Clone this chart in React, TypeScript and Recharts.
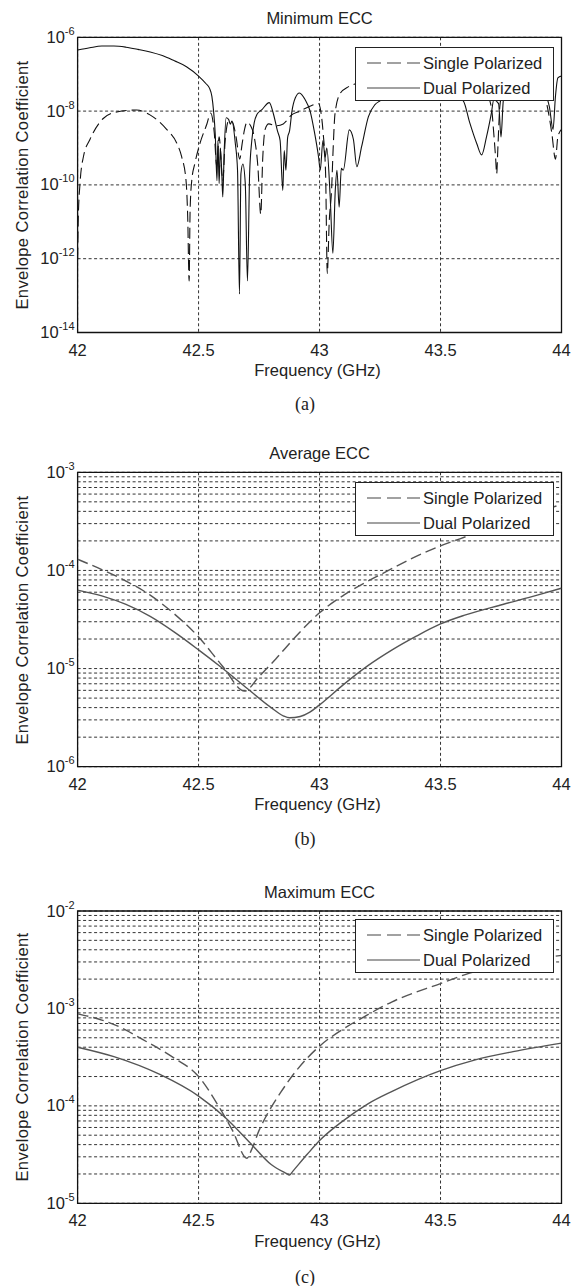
import React from 'react';
import { LineChart, Line, XAxis, YAxis, CartesianGrid, ReferenceArea } from 'recharts';

const freqTicks = [42, 42.5, 43, 43.5, 44];

// (a) Minimum ECC
const minSingleFreq = [
  42.0, 42.003, 42.01, 42.024, 42.051, 42.106, 42.162, 42.244, 42.299, 42.368, 42.41, 42.43, 42.448, 42.455,
  42.461, 42.465, 42.472, 42.485, 42.506, 42.534, 42.55, 42.565, 42.575, 42.585, 42.6, 42.61, 42.625, 42.64,
  42.655, 42.67, 42.68, 42.69, 42.7, 42.715, 42.73, 42.745, 42.757, 42.765, 42.775, 42.79, 42.82, 42.85,
  42.865, 42.88, 42.92, 42.96, 42.995, 43.005, 43.015, 43.025, 43.032, 43.04, 43.05, 43.056, 43.064, 43.085,
  43.12, 43.15, 43.2, 43.3, 43.4, 43.5, 43.6, 43.68, 43.71, 43.72, 43.728, 43.732, 43.737, 43.745, 43.76,
  43.85, 43.92, 43.945, 43.96, 43.975, 43.985, 44.0,
];
const minSingleEcc = [
  1.0e-12, 1.4e-11, 1.1e-10, 5.8e-10, 1.7e-9, 6.3e-9, 9.5e-9, 1.07e-8, 7.9e-9, 3.2e-9, 1.35e-9, 5.8e-10, 1.35e-10, 1.4e-11,
  2.5e-13, 2.1e-11, 1.35e-10, 3.9e-10, 1.35e-9, 4.4e-9, 8.9e-9, 2.5e-9, 3.2e-10, 2.0e-9, 1.3e-10, 1.6e-9, 5.6e-9, 5.0e-9,
  2.0e-9, 5.0e-10, 1.3e-9, 3.2e-9, 5.0e-9, 4.0e-9, 2.0e-9, 3.2e-10, 1.6e-11, 5.0e-10, 3.2e-9, 4.5e-9, 4.0e-9, 4.5e-9,
  5.6e-9, 7.4e-9, 1.0e-8, 1.35e-8, 1.6e-8, 1.0e-8, 2.5e-9, 2.0e-10, 4.0e-13, 1.0e-11, 7.9e-11, 8.9e-10, 8.7e-9, 3.0e-8,
  4.6e-8, 5.6e-8, 7.9e-8, 1.1e-7, 1.3e-7, 1.1e-7, 7.9e-8, 4.0e-8, 1.3e-8, 2.5e-9, 5.0e-10, 2.0e-10, 1.0e-9, 1.3e-8, 4.0e-8,
  6.3e-8, 4.0e-8, 1.0e-8, 2.5e-9, 5.0e-10, 2.0e-9, 3.2e-9,
];
const minDualFreq = [
  42.0, 42.05, 42.1, 42.15, 42.2, 42.25, 42.3, 42.35, 42.4, 42.45, 42.5, 42.53, 42.545, 42.555, 42.562, 42.569,
  42.576, 42.58, 42.585, 42.59, 42.596, 42.6, 42.606, 42.614, 42.624, 42.631, 42.638, 42.652, 42.661, 42.669,
  42.675, 42.683, 42.693, 42.702, 42.711, 42.72, 42.73, 42.741, 42.762, 42.792, 42.81, 42.826, 42.837, 42.848,
  42.854, 42.861, 42.868, 42.876, 42.886, 42.9, 42.917, 42.941, 42.961, 42.978, 42.996, 43.003, 43.014, 43.023,
  43.03, 43.044, 43.055, 43.065, 43.072, 43.081, 43.09, 43.098, 43.123, 43.14, 43.154, 43.174, 43.202, 43.229,
  43.25, 43.3, 43.4, 43.5, 43.56, 43.594, 43.62, 43.65, 43.67, 43.69, 43.71, 43.72, 43.74, 43.75, 43.76, 43.8,
  43.88, 43.93, 43.95, 43.965, 43.975, 43.985, 44.0,
];
const minDualEcc = [
  4.5e-7, 5.2e-7, 5.8e-7, 5.8e-7, 5.4e-7, 4.7e-7, 4.0e-7, 3.2e-7, 2.3e-7, 1.6e-7, 8.9e-8, 5.6e-8, 4.2e-8, 2.5e-8, 1.0e-8, 2.3e-9,
  1.3e-10, 1.6e-9, 1.1e-10, 1.0e-9, 2.0e-10, 4.7e-11, 8.5e-10, 6.6e-9, 6.0e-9, 4.4e-9, 5.4e-9, 1.3e-9, 2.5e-10, 1.1e-13,
  2.0e-10, 3.7e-10, 1.1e-10, 2.5e-13, 2.0e-10, 1.6e-9, 4.9e-9, 8.1e-9, 1.1e-8, 1.7e-8, 8.1e-9, 2.9e-9, 1.6e-9, 7.1e-11,
  8.5e-10, 2.5e-10, 1.9e-9, 2.9e-9, 1.0e-8, 2.3e-8, 3.1e-8, 2.0e-8, 1.0e-8, 2.9e-9, 5.6e-10, 2.5e-10, 1.6e-9, 5.6e-10,
  1.0e-9, 4.7e-11, 1.4e-12, 7.1e-11, 2.5e-10, 2.5e-11, 2.8e-10, 2.5e-10, 3.1e-9, 1.7e-9, 3.1e-10, 1.1e-9, 7.1e-9, 1.5e-8,
  1.9e-8, 3.2e-8, 5.0e-8, 4.0e-8, 2.5e-8, 1.9e-8, 5.0e-9, 1.3e-9, 6.5e-10, 2.0e-9, 8.7e-9, 2.0e-8, 1.6e-8, 2.0e-9, 2.0e-8, 5.0e-8,
  6.3e-8, 3.2e-8, 1.3e-8, 3.2e-9, 2.5e-8, 7.9e-8, 8.9e-8,
];

// (b) Average ECC
const avgSingleFreq = [42.0, 42.1, 42.2, 42.3, 42.4, 42.5, 42.6, 42.69, 42.75, 42.82, 42.9, 43.0, 43.1, 43.26, 43.5, 43.58, 43.75, 44.0];
const avgSingleEcc = [1.3e-4, 1.02e-4, 7.8e-5, 5.6e-5, 3.6e-5, 2.1e-5, 1.05e-5, 5.9e-6, 8.3e-6, 1.26e-5, 2.1e-5, 3.7e-5, 5.6e-5, 9.3e-5, 1.78e-4, 2.1e-4, 3.0e-4, 4.7e-4];
const avgDualFreq = [42.0, 42.1, 42.2, 42.3, 42.4, 42.5, 42.6, 42.7, 42.8, 42.85, 42.876, 42.92, 42.96, 43.0, 43.1, 43.2, 43.3, 43.4, 43.5, 43.6, 43.757, 43.9, 44.0];
const avgDualEcc = [6.3e-5, 5.5e-5, 4.5e-5, 3.4e-5, 2.35e-5, 1.55e-5, 1.0e-5, 6.3e-6, 4.0e-6, 3.3e-6, 3.15e-6, 3.25e-6, 3.6e-6, 4.27e-6, 6.9e-6, 1.07e-5, 1.55e-5, 2.14e-5, 2.85e-5, 3.5e-5, 4.5e-5, 5.6e-5, 6.6e-5];

// (c) Maximum ECC
const maxSingleFreq = [42.0, 42.1, 42.2, 42.25, 42.39, 42.5, 42.58, 42.64, 42.7, 42.72, 42.75, 42.78, 42.84, 42.91, 43.0, 43.1, 43.18, 43.3, 43.5, 43.62, 43.8, 44.0];
const maxSingleEcc = [8.8e-4, 7.6e-4, 6.0e-4, 5.1e-4, 3.2e-4, 2.0e-4, 1.02e-4, 5.6e-5, 2.9e-5, 3.6e-5, 5.6e-5, 7.9e-5, 1.38e-4, 2.4e-4, 4.1e-4, 6.2e-4, 8.1e-4, 1.17e-3, 1.8e-3, 2.3e-3, 2.95e-3, 3.5e-3];
const maxDualFreq = [42.0, 42.15, 42.34, 42.5, 42.61, 42.72, 42.8, 42.86, 42.876, 42.89, 42.95, 43.0, 43.1, 43.2, 43.3, 43.5, 43.64, 43.8, 44.0];
const maxDualEcc = [4.0e-4, 3.2e-4, 2.1e-4, 1.26e-4, 7.6e-5, 4.0e-5, 2.5e-5, 2.04e-5, 1.95e-5, 2.14e-5, 3.2e-5, 4.4e-5, 7.1e-5, 1.05e-4, 1.41e-4, 2.3e-4, 2.95e-4, 3.6e-4, 4.4e-4];

const minTicks = [1e-14, 1e-12, 1e-10, 1e-8, 1e-6];
const avgTicks = [
  1e-6, 2e-6, 3e-6, 4e-6, 5e-6, 6e-6, 7e-6, 8e-6, 9e-6,
  1e-5, 2e-5, 3e-5, 4e-5, 5e-5, 6e-5, 7e-5, 8e-5, 9e-5,
  1e-4, 2e-4, 3e-4, 4e-4, 5e-4, 6e-4, 7e-4, 8e-4, 9e-4, 1e-3,
];
const maxTicks = [
  1e-5, 2e-5, 3e-5, 4e-5, 5e-5, 6e-5, 7e-5, 8e-5, 9e-5,
  1e-4, 2e-4, 3e-4, 4e-4, 5e-4, 6e-4, 7e-4, 8e-4, 9e-4,
  1e-3, 2e-3, 3e-3, 4e-3, 5e-3, 6e-3, 7e-3, 8e-3, 9e-3, 1e-2,
];

const FONT = '"Liberation Sans", Arial, sans-serif';
const INK = '#222';
const PLOT_LEFT = 77.6;
const PLOT_RIGHT = 561.5;

type Pt = { f: number; v: number };
const pts = (f: number[], v: number[]): Pt[] => f.map((x, i) => ({ f: x, v: v[i] }));

const PowTick = (props: any) => {
  const { x, y, payload } = props;
  const e = Math.log10(payload.value);
  const r = Math.round(e);
  if (Math.abs(e - r) > 1e-6) return <g />;
  return (
    <text x={x} y={y} dy={5.5} textAnchor="end" fontSize={16.5} fill={INK} fontFamily={FONT}>
      10<tspan dy={-8} fontSize={11}>{`${r}`}</tspan>
    </text>
  );
};

const FreqTick = (props: any) => {
  const { x, y, payload } = props;
  return (
    <text x={x} y={y + 21} textAnchor="middle" fontSize={16.5} fill={INK} fontFamily={FONT}>
      {payload.value}
    </text>
  );
};

const Txt = ({ x, y, children, size = 16.5, serif = false, rotate = false, spacing = 0 }: any) => (
  <div
    style={{
      position: 'absolute',
      left: x,
      top: y,
      transform: `translate(-50%, -50%)${rotate ? ' rotate(-90deg)' : ''}`,
      whiteSpace: 'nowrap',
      fontSize: size,
      lineHeight: 1,
      letterSpacing: spacing,
      color: INK,
      fontFamily: serif ? '"Liberation Serif", "Times New Roman", serif' : FONT,
    }}
  >
    {children}
  </div>
);

const LegendBox = ({ top }: { top: number }) => (
  <div
    style={{
      position: 'absolute',
      left: 355,
      top,
      width: 199,
      height: 54,
      boxSizing: 'border-box',
      border: '1px solid #222',
      background: '#fff',
      fontFamily: FONT,
      fontSize: 16.5,
      color: INK,
    }}
  >
    {[
      { name: 'Single Polarized', dash: '14 6', cy: 15 },
      { name: 'Dual Polarized', dash: undefined, cy: 40 },
    ].map((r) => (
      <div key={r.name} style={{ position: 'absolute', left: 10, top: r.cy - 10, height: 20, display: 'flex', alignItems: 'center' }}>
        <svg width={55} height={20}>
          <line x1={1} y1={10} x2={54} y2={10} stroke="#444" strokeWidth={1.2} strokeDasharray={r.dash} />
        </svg>
        <span style={{ marginLeft: 2, lineHeight: 1 }}>{r.name}</span>
      </div>
    ))}
  </div>
);

interface PanelProps {
  top: number;
  plotTop: number;
  plotBottom: number;
  domain: [number, number];
  ticks: number[];
  single: Pt[];
  dual: Pt[];
  color: string;
  width: number;
}

const H = 420;

const Panel = ({ top, plotTop, plotBottom, domain, ticks, single, dual, color, width }: PanelProps) => (
  <div style={{ position: 'absolute', left: 0, top }}>
    <LineChart
      width={571}
      height={H}
      margin={{ top: plotTop - top, right: 571 - PLOT_RIGHT, left: PLOT_LEFT - 60, bottom: top + H - plotBottom - 30 }}
    >
      <CartesianGrid stroke="#333" strokeDasharray="3 2.5" strokeWidth={1} />
      <XAxis
        type="number"
        dataKey="f"
        domain={[42, 44]}
        ticks={freqTicks}
        interval={0}
        allowDataOverflow
        axisLine={false}
        tickLine={false}
        tickSize={0}
        height={30}
        tick={<FreqTick />}
      />
      <YAxis
        type="number"
        scale="log"
        domain={domain}
        ticks={ticks}
        interval={0}
        allowDataOverflow
        axisLine={false}
        tickLine={false}
        tickSize={0}
        tickMargin={3}
        width={60}
        tick={<PowTick />}
      />
      <Line data={single} dataKey="v" type="monotoneX" dot={false} stroke={color} strokeWidth={width} strokeDasharray="11 5" isAnimationActive={false} />
      <Line data={dual} dataKey="v" type="monotoneX" dot={false} stroke={color} strokeWidth={width} isAnimationActive={false} />
      <ReferenceArea x1={42} x2={44} y1={domain[0]} y2={domain[1]} fill="none" fillOpacity={0} stroke="#111" strokeWidth={1.3} />
    </LineChart>
  </div>
);

const panels = [
  { title: 'Minimum ECC', caption: '(a)', top: 0, plotTop: 37.3, plotBottom: 332.5, domain: [1e-14, 1e-6] as [number, number], ticks: minTicks, single: pts(minSingleFreq, minSingleEcc), dual: pts(minDualFreq, minDualEcc), color: '#111', width: 1.1, titleY: 18.3, captionY: 404, legendTop: 47 },
  { title: 'Average ECC', caption: '(b)', top: 430, plotTop: 472.3, plotBottom: 766.7, domain: [1e-6, 1e-3] as [number, number], ticks: avgTicks, single: pts(avgSingleFreq, avgSingleEcc), dual: pts(avgDualFreq, avgDualEcc), color: '#555', width: 1.4, titleY: 453.3, captionY: 839, legendTop: 482.3 },
  { title: 'Maximum ECC', caption: '(c)', top: 860, plotTop: 911, plotBottom: 1203.3, domain: [1e-5, 1e-2] as [number, number], ticks: maxTicks, single: pts(maxSingleFreq, maxSingleEcc), dual: pts(maxDualFreq, maxDualEcc), color: '#555', width: 1.4, titleY: 891.7, captionY: 1277, legendTop: 919.3 },
];

export default function App() {
  const cx = (PLOT_LEFT + PLOT_RIGHT) / 2;
  return (
    <div style={{ position: 'absolute', left: 0, top: 0, width: 571, height: 1286, background: '#fff', overflow: 'hidden' }}>
      {panels.map((p) => (
        <React.Fragment key={p.title}>
          <Panel top={p.top} plotTop={p.plotTop} plotBottom={p.plotBottom} domain={p.domain} ticks={p.ticks} single={p.single} dual={p.dual} color={p.color} width={p.width} />
          <LegendBox top={p.legendTop} />
          <Txt x={cx} y={p.titleY}>{p.title}</Txt>
          <Txt x={cx - 2} y={p.plotBottom + 37.4}>Frequency (GHz)</Txt>
          <Txt x={22} y={(p.plotTop + p.plotBottom) / 2} rotate spacing={0.4}>Envelope Correlation Coefficient</Txt>
          <Txt x={305} y={p.captionY} size={18} serif>{p.caption}</Txt>
        </React.Fragment>
      ))}
    </div>
  );
}
